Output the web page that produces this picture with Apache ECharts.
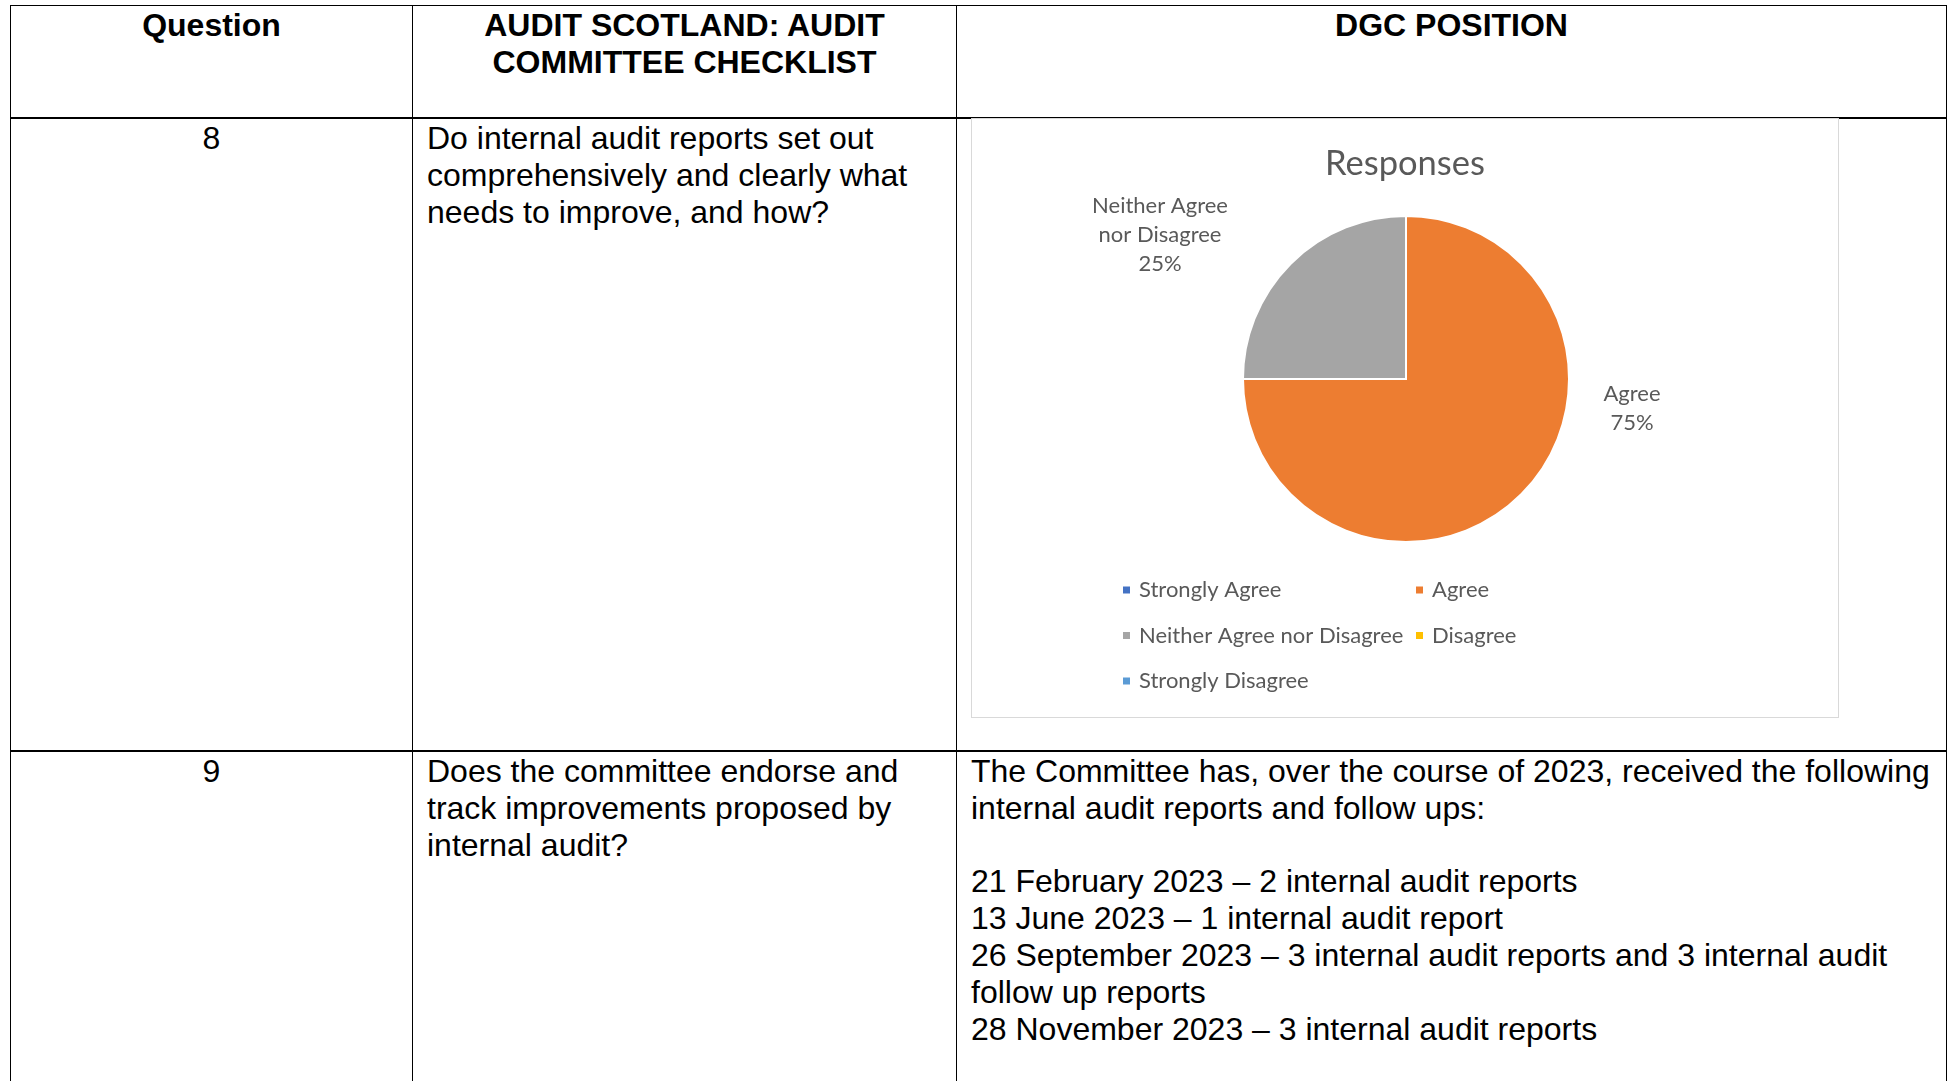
<!DOCTYPE html>
<html>
<head>
<meta charset="utf-8">
<script src="https://cdn.jsdelivr.net/npm/echarts@6/dist/echarts.min.js"></script>
<style>
  html, body { margin: 0; padding: 0; background: #fff; width: 1950px; height: 1081px; overflow: hidden; }
  body { font-family: "Liberation Sans", Arial, sans-serif; color: #000; position: relative; }
  table { position: absolute; left: 10px; top: 5px; width: 1936px; border-collapse: collapse; table-layout: fixed; }
  td { border: 1px solid #000; vertical-align: top; font-size: 32px; line-height: 36.8px; padding: 1px 14px 0 14px; white-space: nowrap; }
  tr.head td { font-weight: bold; text-align: center; height: 110px; border-bottom: 2px solid #000; }
  tr.q8 td { height: 630px; border-bottom: 2px solid #000; }
  tr.q9 td { height: 400px; }
  td.num { text-align: center; }
  #chart { position: absolute; left: 971px; top: 118px; width: 868px; height: 600px; border: 1.5px solid #d9d9d9; box-sizing: border-box; background: #fff; }
</style>
</head>
<body>
<table>
  <colgroup><col style="width:402px"><col style="width:544px"><col style="width:990px"></colgroup>
  <tr class="head">
    <td>Question</td>
    <td>AUDIT SCOTLAND: AUDIT<br>COMMITTEE CHECKLIST</td>
    <td>DGC POSITION</td>
  </tr>
  <tr class="q8">
    <td class="num">8</td>
    <td>Do internal audit reports set out<br>comprehensively and clearly what<br>needs to improve, and how?</td>
    <td></td>
  </tr>
  <tr class="q9">
    <td class="num">9</td>
    <td>Does the committee endorse and<br>track improvements proposed by<br>internal audit?</td>
    <td>The Committee has, over the course of 2023, received the following<br>internal audit reports and follow ups:<br><br>21 February 2023 – 2 internal audit reports<br>13 June 2023 – 1 internal audit report<br>26 September 2023 – 3 internal audit reports and 3 internal audit<br>follow up reports<br>28 November 2023 – 3 internal audit reports</td>
  </tr>
</table>
<div id="chart"></div>
<script>
// 回答类别与人数
const categories = ['Strongly Agree', 'Agree', 'Neither Agree nor Disagree', 'Disagree', 'Strongly Disagree']
const responses = [0, 3, 1, 0, 0]
const colors = ['#4472C4', '#ED7D31', '#A5A5A5', '#FFC000', '#5B9BD5']

const chart = echarts.init(document.getElementById('chart'))
const textColor = '#595959'
const font = 'Lato, "Open Sans", sans-serif'

const legendText = { color: textColor, fontFamily: font, fontSize: 22, lineHeight: 24, padding: [0, 0, 0, 3] }

chart.setOption({
  animation: false,
  color: colors,
  title: {
    text: 'Responses',
    left: 'center',
    top: 22,
    textStyle: { color: textColor, fontFamily: font, fontWeight: 'normal', fontSize: 34.5 }
  },
  legend: [
    {
      orient: 'vertical',
      left: 144,
      top: 454,
      itemGap: 21.5,
      itemWidth: 9,
      itemHeight: 9,
      icon: 'rect',
      data: [categories[0], categories[2], categories[4]],
      textStyle: legendText
    },
    {
      orient: 'vertical',
      left: 437,
      top: 454,
      itemGap: 21.5,
      itemWidth: 9,
      itemHeight: 9,
      icon: 'rect',
      data: [categories[1], categories[3]],
      textStyle: legendText
    }
  ],
  series: [
    {
      type: 'pie',
      center: [434, 260],
      radius: 163,
      startAngle: 90,
      itemStyle: { borderColor: '#fff', borderWidth: 2 },
      label: {
        color: textColor,
        fontFamily: font,
        fontSize: 22,
        lineHeight: 29,
        align: 'center',
        formatter: function(p) {
          return p.name.replace('Neither Agree ', 'Neither Agree\n') + '\n' + Math.round(p.percent) + '%'
        }
      },
      labelLine: { show: false },
      // 标签位置（相对饼图中心）
      labelLayout: function(p) {
        if (p.dataIndex === 1) return { x: 660, y: 289, align: 'center', verticalAlign: 'middle' }
        if (p.dataIndex === 2) return { x: 188, y: 116, align: 'center', verticalAlign: 'middle' }
        return {}
      },
      emphasis: { disabled: true },
      data: categories.map(function(name, i) {
        return { name: name, value: responses[i], label: { show: responses[i] > 0 }}
      })
    }
  ]
})
</script>
</body>
</html>
